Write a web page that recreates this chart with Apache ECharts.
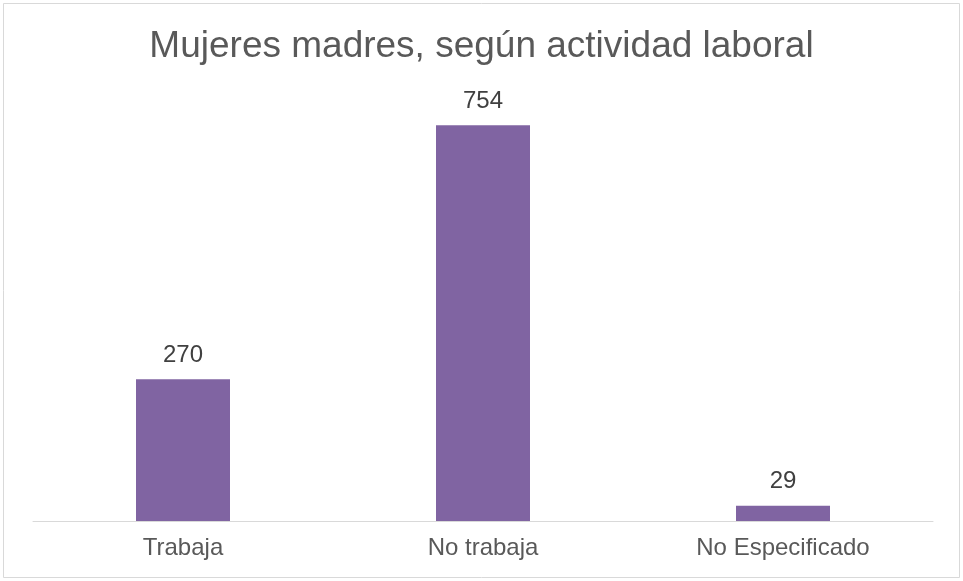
<!DOCTYPE html>
<html>
<head>
<meta charset="utf-8">
<script src="https://cdn.jsdelivr.net/npm/echarts@6/dist/echarts.min.js"></script>
<style>
  html, body { margin: 0; padding: 0; background: #fff; }
  #main { width: 963px; height: 581px; }
</style>
</head>
<body>
<div id="main"></div>
<script>
// datos del gráfico
var categorias = ["Trabaja", "No trabaja", "No Especificado"];
var valores = [270, 754, 29];
var titulo = "Mujeres madres, según actividad laboral";

var chart = echarts.init(document.getElementById("main"));
var option = {
    backgroundColor: "#fff",
    animation: false,
    title: {
        text: titulo,
        left: "center",
        top: 28,
        padding: 0,
        textStyle: {
            fontFamily: "Liberation Sans",
            fontSize: 37,
            fontWeight: "normal",
            color: "#595959"
        }
    },
    // borde exterior
    graphic: [{
        type: "rect",
        shape: { x: 3.5, y: 3.5, width: 956, height: 574 },
        style: { fill: "none", stroke: "#d9d9d9", lineWidth: 1 },
        silent: true
    }],
    grid: { left: 33, right: 30, top: 101, bottom: 60 },
    xAxis: {
        type: "category",
        data: categorias,
        axisLine: { lineStyle: { color: "#d9d9d9", width: 1 } },
        axisTick: { show: false },
        axisLabel: {
            margin: 15,
            fontFamily: "Liberation Sans",
            fontSize: 24,
            color: "#595959"
        }
    },
    yAxis: {
        type: "value",
        min: 0,
        max: 800,
        show: false,
        splitLine: { show: false }
    },
    series: [{
        type: "bar",
        data: valores,
        barWidth: 94,
        itemStyle: { color: "#8064A2" },
        label: {
            show: true,
            position: "top",
            distance: 12,
            fontFamily: "Liberation Sans",
            fontSize: 24,
            color: "#404040"
        }
    }]
};
chart.setOption(option);
</script>
</body>
</html>
